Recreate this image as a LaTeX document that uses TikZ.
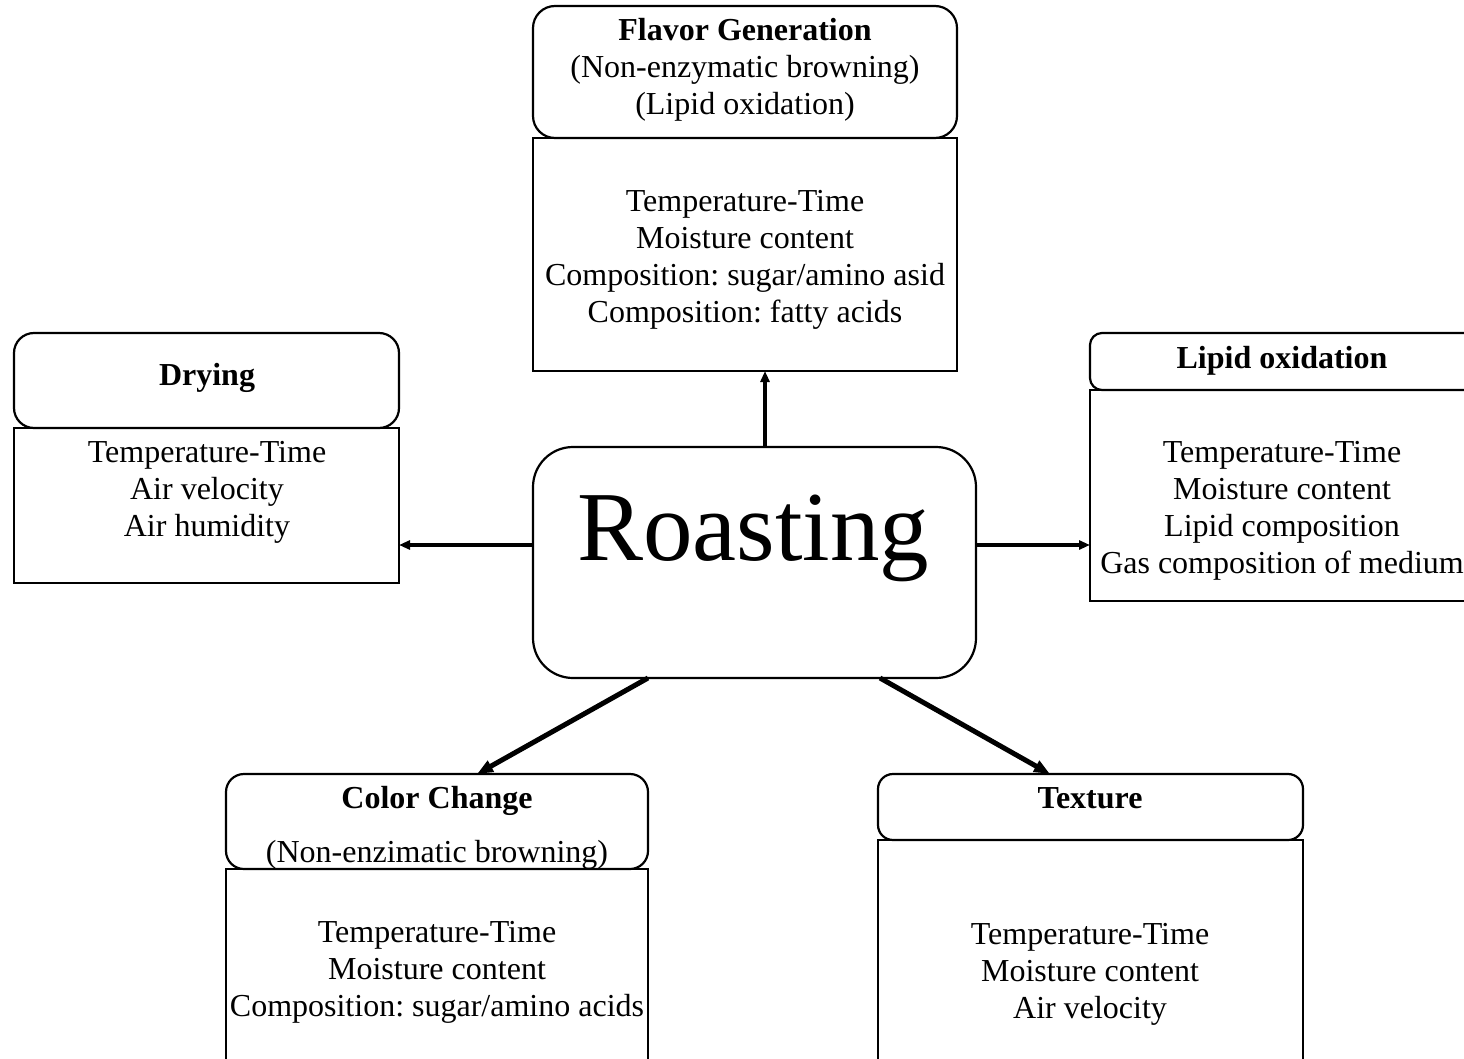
\documentclass[tikz,border=0pt]{standalone}
\usepackage{fontspec}
\setmainfont{Liberation Serif}
\usetikzlibrary{arrows.meta,calc}
\frenchspacing
\begin{document}
\begin{tikzpicture}[x=1pt,y=-1pt,
  box/.style={draw, line width=2.2pt, inner sep=0pt, outer sep=0pt, anchor=north west},
  txt/.style={inner sep=0pt, anchor=base, font=\fontsize{32}{37}\selectfont},
  ttl/.style={inner sep=0pt, anchor=base, font=\fontsize{32}{37}\selectfont\bfseries},
  arr/.style={line width=3.5pt, -{Triangle[length=11pt,width=9pt]}},
  darr/.style={line width=5pt, -{Triangle[length=16pt,width=12pt]}}]
\useasboundingbox (0,0) rectangle (1464,1059);
\clip (0,0) rectangle (1464,1059);

% Flavor Generation
\node[box, rounded corners=22pt, minimum width=424pt, minimum height=132pt] (flavh) at (533,6) {};
\node[box, minimum width=424pt, minimum height=233pt] (flavb) at (533,138) {};
\node[ttl] (flavt) at (745,41) {Flavor Generation};
\node[txt] (flavs1) at (745,78) {(Non-enzymatic browning)};
\node[txt] (flavs2) at (745,115) {(Lipid oxidation)};
\node[txt] (flavb1) at (745,212) {Temperature-Time};
\node[txt] (flavb2) at (745,249) {Moisture content};
\node[txt] (flavb3) at (745,286) {Composition: sugar/amino asid};
\node[txt] (flavb4) at (745,323) {Composition: fatty acids};

% Drying
\node[box, rounded corners=20pt, minimum width=385pt, minimum height=95pt] (dryh) at (14,333) {};
\node[box, minimum width=385pt, minimum height=155pt] (dryb) at (14,428) {};
\node[ttl] (dryt) at (207,385) {Drying};
\node[txt] (dryb1) at (207,462) {Temperature-Time};
\node[txt] (dryb2) at (207,499) {Air velocity};
\node[txt] (dryb3) at (207,536) {Air humidity};

% Lipid oxidation
\node[box, rounded corners=12pt, minimum width=388pt, minimum height=57pt] (liph) at (1090,333) {};
\node[box, minimum width=388pt, minimum height=211pt] (lipb) at (1090,390) {};
\node[ttl] (lipt) at (1282,368) {Lipid oxidation};
\node[txt] (lipb1) at (1282,462) {Temperature-Time};
\node[txt] (lipb2) at (1282,499) {Moisture content};
\node[txt] (lipb3) at (1282,536) {Lipid composition};
\node[txt] (lipb4) at (1282,573) {Gas composition of medium};

% Roasting
\node[box, rounded corners=40pt, minimum width=443pt, minimum height=231pt] (roast) at (533,447) {};
\node[inner sep=0pt, anchor=base, font=\fontsize{99}{100}\selectfont] (roastt) at (753,560) {Roasting};

% Color Change
\node[box, rounded corners=18pt, minimum width=422pt, minimum height=95pt] (colh) at (226,774) {};
\node[box, minimum width=422pt, minimum height=220pt] (colb) at (226,869) {};
\node[ttl] (colt) at (437,808) {Color Change};
\node[txt] (cols) at (437,862) {(Non-enzimatic browning)};
\node[txt] (colb1) at (437,942) {Temperature-Time};
\node[txt] (colb2) at (437,979) {Moisture content};
\node[txt] (colb3) at (437,1016) {Composition: sugar/amino acids};

% Texture
\node[box, rounded corners=15pt, minimum width=425pt, minimum height=66pt] (texh) at (878,774) {};
\node[box, minimum width=425pt, minimum height=250pt] (texb) at (878,840) {};
\node[ttl] (text) at (1090,808) {Texture};
\node[txt] (texb1) at (1090,944) {Temperature-Time};
\node[txt] (texb2) at (1090,981) {Moisture content};
\node[txt] (texb3) at (1090,1018) {Air velocity};

% connectors
\coordinate (ux) at (765,0);
\coordinate (hy) at (0,545);
\coordinate (d1) at (648,0);
\coordinate (d2) at (477,0);
\coordinate (d3) at (880,0);
\coordinate (d4) at (1050,0);
\draw[arr] (roast.north -| ux) -- (flavb.south -| ux);
\draw[arr] (roast.west |- hy) -- (dryb.east |- hy);
\draw[arr] (roast.east |- hy) -- (lipb.west |- hy);
\draw[darr] (roast.south -| d1) -- (colh.north -| d2);
\draw[darr] (roast.south -| d3) -- (texh.north -| d4);
\end{tikzpicture}
\end{document}
